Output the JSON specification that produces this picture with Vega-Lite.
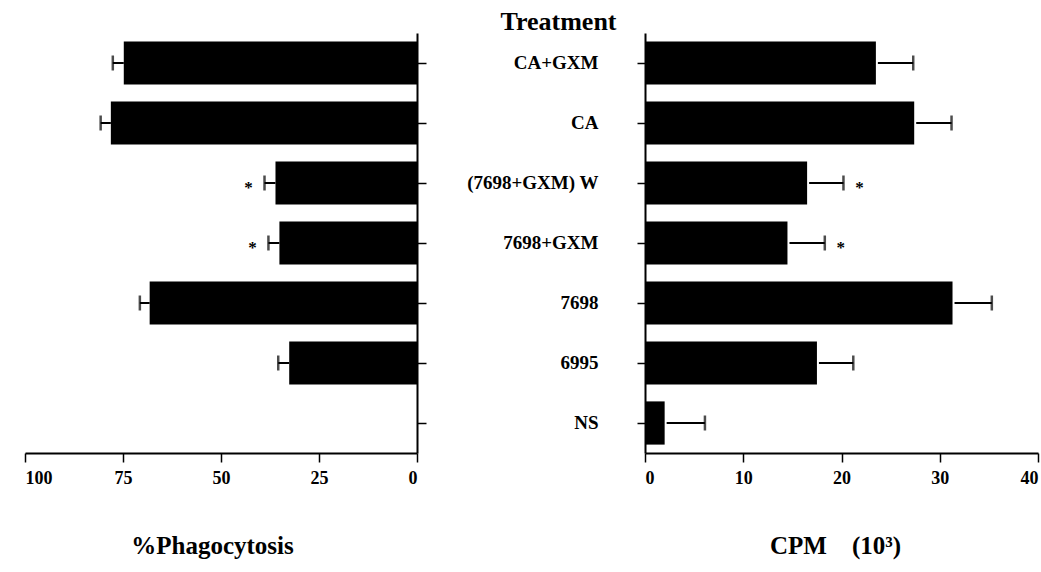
{
  "$schema": "https://vega.github.io/schema/vega-lite/v6.json",
  "background": "white",
  "padding": {"left": 24, "top": 8, "right": 5, "bottom": 5},
  "spacing": 228,
  "bounds": "flush",
  "config": {
    "view": {"stroke": null},
    "font": "Liberation Serif",
    "axis": {
      "domainColor": "black", "domainWidth": 2, "tickColor": "black", "tickWidth": 1.5,
      "labelColor": "black", "titleColor": "black", "labelFont": "Liberation Serif",
      "titleFont": "Liberation Serif", "labelFontWeight": "bold", "titleFontWeight": "bold", "grid": false
    },
    "axisX": {"labelFontSize": 18, "labelPadding": 7, "titleFontSize": 25, "titlePadding": 46, "tickSize": 9, "titleAlign": "center"}
  },
  "data": {
    "values": [
      {"treatment": "CA+GXM", "phago": 74.8, "phago_hi": 77.6, "cpm": 23.5, "cpm_hi": 27.3, "sig": ""},
      {"treatment": "CA", "phago": 78.1, "phago_hi": 80.7, "cpm": 27.4, "cpm_hi": 31.2, "sig": ""},
      {"treatment": "(7698+GXM) W", "phago": 36.1, "phago_hi": 38.9, "cpm": 16.5, "cpm_hi": 20.2, "sig": "*"},
      {"treatment": "7698+GXM", "phago": 35.1, "phago_hi": 37.9, "cpm": 14.5, "cpm_hi": 18.3, "sig": "*"},
      {"treatment": "7698", "phago": 68.2, "phago_hi": 70.7, "cpm": 31.3, "cpm_hi": 35.3, "sig": ""},
      {"treatment": "6995", "phago": 32.6, "phago_hi": 35.4, "cpm": 17.5, "cpm_hi": 21.2, "sig": ""},
      {"treatment": "NS", "phago": null, "phago_hi": null, "cpm": 2.0, "cpm_hi": 6.1, "sig": ""}
    ]
  },
  "hconcat": [
    {
      "width": 392,
      "height": 420,
      "encoding": {
        "y": {
          "field": "treatment", "type": "nominal",
          "sort": ["CA+GXM", "CA", "(7698+GXM) W", "7698+GXM", "7698", "6995", "NS"],
          "scale": {"paddingInner": 0.28, "paddingOuter": 0.14},
          "axis": {"orient": "right", "labels": false, "title": null, "tickSize": 9}
        }
      },
      "layer": [
        {
          "mark": {"type": "bar", "color": "black"},
          "encoding": {
            "x": {
              "field": "phago", "type": "quantitative",
              "scale": {"domain": [0, 100], "reverse": true, "nice": false},
              "axis": {"values": [100, 75, 50, 25, 0], "title": "%Phagocytosis", "titleX": 187, "labelFontSize": 18}
            }
          }
        },
        {
          "mark": {"type": "rule", "color": "black", "strokeWidth": 2},
          "encoding": {"x": {"field": "phago", "type": "quantitative"}, "x2": {"field": "phago_hi"}}
        },
        {
          "mark": {"type": "tick", "color": "black", "orient": "vertical", "size": 15, "thickness": 2.5},
          "encoding": {"x": {"field": "phago_hi", "type": "quantitative"}}
        },
        {
          "mark": {"type": "text", "color": "black", "fontSize": 17, "fontWeight": "bold", "dx": -16, "dy": 5, "align": "center"},
          "encoding": {"x": {"field": "phago_hi", "type": "quantitative"}, "text": {"field": "sig"}}
        }
      ]
    },
    {
      "width": 393,
      "height": 420,
      "encoding": {
        "y": {
          "field": "treatment", "type": "nominal",
          "sort": ["CA+GXM", "CA", "(7698+GXM) W", "7698+GXM", "7698", "6995", "NS"],
          "scale": {"paddingInner": 0.28, "paddingOuter": 0.14},
          "axis": {
            "orient": "left", "tickSize": 8, "labelPadding": 39, "labelFontSize": 19,
            "title": "Treatment", "titleAngle": 0, "titleAlign": "center", "titleBaseline": "alphabetic",
            "titleX": -87, "titleY": -4, "titleFontSize": 26
          }
        }
      },
      "layer": [
        {
          "mark": {"type": "bar", "color": "black"},
          "encoding": {
            "x": {
              "field": "cpm", "type": "quantitative",
              "scale": {"domain": [0, 40], "nice": false},
              "axis": {"values": [0, 10, 20, 30, 40], "title": "CPM\u00a0\u00a0\u00a0\u00a0(10³)", "titleX": 190, "labelFontSize": 18}
            }
          }
        },
        {
          "mark": {"type": "rule", "color": "black", "strokeWidth": 2, "xOffset": 2},
          "encoding": {"x": {"field": "cpm", "type": "quantitative"}, "x2": {"field": "cpm_hi"}}
        },
        {
          "mark": {"type": "tick", "color": "black", "orient": "vertical", "size": 15, "thickness": 2.5},
          "encoding": {"x": {"field": "cpm_hi", "type": "quantitative"}}
        },
        {
          "mark": {"type": "text", "color": "black", "fontSize": 17, "fontWeight": "bold", "dx": 16, "dy": 5, "align": "center"},
          "encoding": {"x": {"field": "cpm_hi", "type": "quantitative"}, "text": {"field": "sig"}}
        }
      ]
    }
  ]
}
